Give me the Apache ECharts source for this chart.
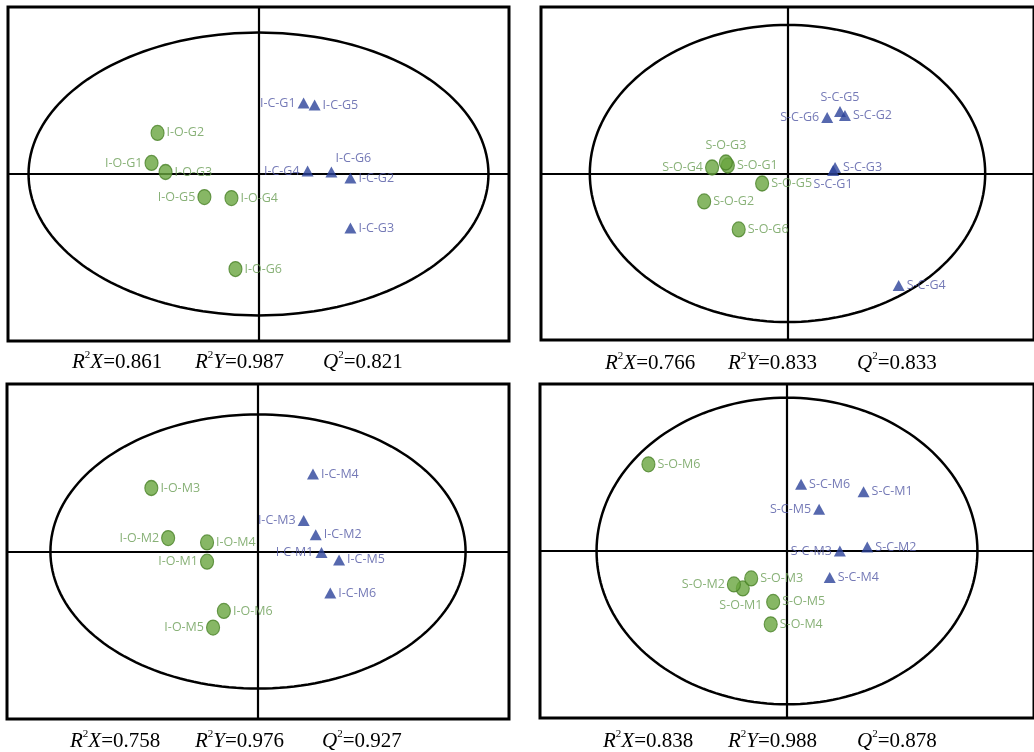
<!DOCTYPE html>
<html>
<head>
<meta charset="utf-8">
<script src="https://cdn.jsdelivr.net/npm/echarts@6/dist/echarts.min.js"></script>
<style>
html,body{margin:0;padding:0;background:#fff;}
#chart{width:1034px;height:752px;}
</style>
</head>
<body>
<div id="chart"></div>
<script>
// ---- Panel 1 (I-G) scores ----
const p1ONames = ['I-O-G1','I-O-G2','I-O-G3','I-O-G4','I-O-G5','I-O-G6'];
const p1OX = [-0.427,-0.403,-0.371,-0.108,-0.216,-0.092];
const p1OY = [0.066,0.246,0.012,-0.144,-0.138,-0.569];
const p1CNames = ['I-C-G1','I-C-G2','I-C-G3','I-C-G4','I-C-G5','I-C-G6'];
const p1CX = [0.180,0.367,0.367,0.196,0.224,0.291];
const p1CY = [0.425,-0.024,-0.323,0.018,0.413,0.012];
const p1Stats = ['0.861','0.987','0.821'];
const p1Ellipse = [0.918,0.847];

// ---- Panel 2 (S-G) scores ----
const p2ONames = ['S-O-G1','S-O-G2','S-O-G3','S-O-G4','S-O-G5','S-O-G6'];
const p2OX = [-0.242,-0.338,-0.250,-0.306,-0.103,-0.198];
const p2OY = [0.048,-0.168,0.066,0.036,-0.060,-0.336];
const p2CNames = ['S-C-G1','S-C-G2','S-C-G3','S-C-G4','S-C-G5','S-C-G6'];
const p2CX = [0.185,0.233,0.193,0.451,0.213,0.161];
const p2CY = [0.018,0.348,0.036,-0.673,0.372,0.336];
const p2Stats = ['0.766','0.833','0.833'];
const p2Ellipse = [0.802,0.892];

// ---- Panel 3 (I-M) scores ----
const p3ONames = ['I-O-M1','I-O-M2','I-O-M3','I-O-M4','I-O-M5','I-O-M6'];
const p3OX = [-0.203,-0.358,-0.425,-0.203,-0.179,-0.136];
const p3OY = [-0.061,0.080,0.379,0.054,-0.454,-0.355];
const p3CNames = ['I-C-M1','I-C-M2','I-C-M3','I-C-M4','I-C-M5','I-C-M6'];
const p3CX = [0.253,0.230,0.182,0.219,0.323,0.288];
const p3CY = [-0.006,0.100,0.185,0.463,-0.050,-0.248];
const p3Stats = ['0.758','0.976','0.927'];
const p3Ellipse = [0.827,0.818];

// ---- Panel 4 (S-M) scores ----
const p4ONames = ['S-O-M1','S-O-M2','S-O-M3','S-O-M4','S-O-M5','S-O-M6'];
const p4OX = [-0.179,-0.215,-0.145,-0.066,-0.056,-0.561];
const p4OY = [-0.224,-0.200,-0.164,-0.439,-0.305,0.519];
const p4CNames = ['S-C-M1','S-C-M2','S-C-M3','S-C-M4','S-C-M5','S-C-M6'];
const p4CX = [0.310,0.325,0.214,0.173,0.130,0.057];
const p4CY = [0.355,0.024,0.000,-0.159,0.250,0.399];
const p4Stats = ['0.838','0.988','0.878'];
const p4Ellipse = [0.771,0.918];

// label placement (layout only)
const labelPos = {
  'I-O-G1':'left','I-O-G5':'left','I-C-G1':'left','I-C-G4':'left','I-C-G6':'topRight',
  'S-O-G4':'left','S-O-G3':'top','S-C-G6':'left','S-C-G5':'top','S-C-G1':'bottom',
  'I-O-M2':'left','I-O-M1':'left','I-O-M5':'left','I-C-M3':'left','I-C-M1':'left',
  'S-C-M5':'left','S-C-M3':'left','S-O-M2':'left','S-O-M1':'bottomLeft'
};

const panels = [
  {oN:p1ONames,oX:p1OX,oY:p1OY,cN:p1CNames,cX:p1CX,cY:p1CY,stats:p1Stats,ell:p1Ellipse,
   grid:{left:8,top:7,width:501,height:334}, text:{y:362,x:[72,195,323]}},
  {oN:p2ONames,oX:p2OX,oY:p2OY,cN:p2CNames,cX:p2CX,cY:p2CY,stats:p2Stats,ell:p2Ellipse,
   grid:{left:541,top:7,width:501,height:333}, text:{y:363,x:[605,728,857]}},
  {oN:p3ONames,oX:p3OX,oY:p3OY,cN:p3CNames,cX:p3CX,cY:p3CY,stats:p3Stats,ell:p3Ellipse,
   grid:{left:7,top:384,width:502,height:335}, text:{y:741,x:[70,195,322]}},
  {oN:p4ONames,oX:p4OX,oY:p4OY,cN:p4CNames,cX:p4CX,cY:p4CY,stats:p4Stats,ell:p4Ellipse,
   grid:{left:540,top:384,width:501,height:334}, text:{y:741,x:[603,728,857]}}
];

const GREEN = '#69a53f', GREEN_EDGE = '#4a8228', GREEN_TXT = '#6a9d55';
const BLUE = '#2c429a', BLUE_TXT = '#5157a4';
const LABEL_FONT = '"Open Sans", "Noto Sans", sans-serif';

function labelFor(name, color){
  const pos = labelPos[name] || 'right';
  const l = {show:true, formatter:name, color:color, fontFamily:LABEL_FONT, fontSize:12.5, distance:2};
  if (pos === 'topRight'){ l.position = 'top'; l.offset = [22,0]; }
  else if (pos === 'bottomLeft'){ l.position = 'bottom'; l.offset = [-2,0]; }
  else l.position = pos;
  return l;
}

const grids=[], xAxes=[], yAxes=[], series=[], graphics=[];
const axisStyle = {show:true, onZero:true, lineStyle:{color:'#000', width:2.2}};
panels.forEach((p,i)=>{
  grids.push(Object.assign({show:true, borderColor:'#000', borderWidth:3, backgroundColor:'transparent'}, p.grid));
  xAxes.push({type:'value', gridIndex:i, min:-1, max:1, axisLine:axisStyle, axisTick:{show:false}, axisLabel:{show:false}, splitLine:{show:false}});
  yAxes.push({type:'value', gridIndex:i, min:-1, max:1, axisLine:axisStyle, axisTick:{show:false}, axisLabel:{show:false}, splitLine:{show:false}});
  const ell = p.ell;
  series.push({
    type:'custom', xAxisIndex:i, yAxisIndex:i, silent:true, z:1,
    data:[[0,0]],
    renderItem:function(params, api){
      const pts=[];
      for(let k=0;k<=180;k++){
        const a = k/180*Math.PI*2;
        pts.push(api.coord([ell[0]*Math.cos(a), ell[1]*Math.sin(a)]));
      }
      return {type:'polygon', shape:{points:pts}, style:{fill:'none', stroke:'#000', lineWidth:2.5}};
    }
  });
  series.push({
    type:'scatter', xAxisIndex:i, yAxisIndex:i, z:3,
    symbol:'circle', symbolSize:[13,15],
    itemStyle:{color:GREEN, borderColor:GREEN_EDGE, borderWidth:1.2},
    data:p.oN.map((n,k)=>({value:[p.oX[k],p.oY[k]], label:labelFor(n,GREEN_TXT)}))
  });
  series.push({
    type:'scatter', xAxisIndex:i, yAxisIndex:i, z:3,
    symbol:'triangle', symbolSize:[12,11],
    itemStyle:{color:BLUE},
    data:p.cN.map((n,k)=>({value:[p.cX[k],p.cY[k]], label:labelFor(n,BLUE_TXT)}))
  });
  const heads = [['R','X'],['R','Y'],['Q','']];
  p.stats.forEach((v,k)=>{
    const h = heads[k];
    const txt = '{i|'+h[0]+'}{s|2}' + (h[1]?'{i|'+h[1]+'}':'') + '{n|='+v+'}';
    graphics.push({
      type:'text', left:p.text.x[k], top:p.text.y-12,
      style:{
        text:txt,
        rich:{
          i:{fontFamily:'"Liberation Serif", serif', fontStyle:'italic', fontSize:21, lineHeight:24, fill:'#000'},
          s:{fontFamily:'"Liberation Serif", serif', fontSize:11, lineHeight:24, verticalAlign:'top', fill:'#000'},
          n:{fontFamily:'"Liberation Serif", serif', fontSize:21, lineHeight:24, fill:'#000'}
        }
      }
    });
  });
});

const chart = echarts.init(document.getElementById('chart'), null, {renderer:'canvas'});
chart.setOption({
  animation:false,
  grid:grids, xAxis:xAxes, yAxis:yAxes, series:series, graphic:graphics
});
</script>
</body>
</html>
